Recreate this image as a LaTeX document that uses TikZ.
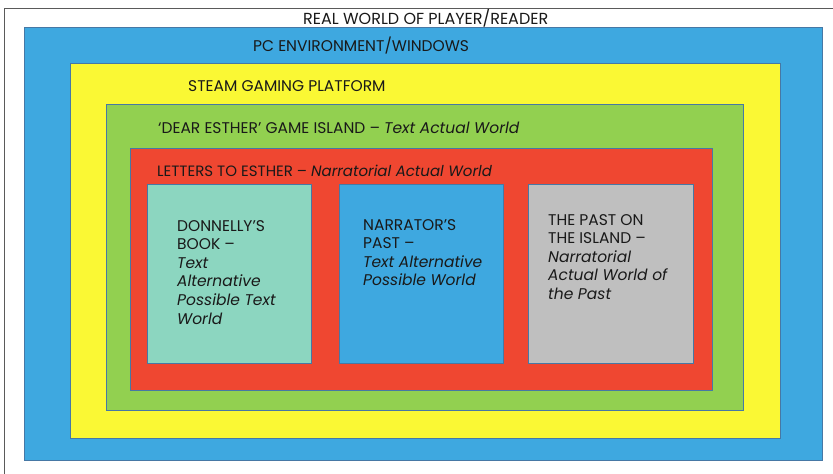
\documentclass[tikz,border=0pt]{standalone}
\usepackage{fontspec}
\setmainfont{Poppins}
\definecolor{framegray}{RGB}{90,90,90}
\definecolor{boxline}{RGB}{70,120,165}
\definecolor{pcblue}{RGB}{62,168,224}
\definecolor{steamyellow}{RGB}{250,248,52}
\definecolor{islandgreen}{RGB}{146,208,80}
\definecolor{lettersred}{RGB}{239,71,49}
\definecolor{bookteal}{RGB}{140,214,192}
\definecolor{pastgray}{RGB}{191,191,191}

\begin{document}
\begin{tikzpicture}[x=1pt,y=-1pt]
% define box types
\tikzstyle{world}=[draw=boxline, rectangle, anchor=north west, inner sep=0pt, line width=0.8pt]
\tikzstyle{heading}=[anchor=base west, inner sep=0pt, text=black!90, font=\fontsize{15.5}{18}\selectfont]
\tikzstyle{boxtext}=[anchor=north west, inner sep=0pt, align=left, text=black!90,
    font=\fontsize{15.5}{18.6}\selectfont]
\useasboundingbox (0,0) rectangle (833,474);
% frame of the real world
\draw[framegray, line width=1pt] (4,474) -- (4,8) -- (833,8);
% nested worlds
\node[world, fill=pcblue, minimum width=798, minimum height=433] (pc) at (24,27) {};
\node[world, fill=steamyellow, minimum width=710, minimum height=375] (steam) at (70,63) {};
\node[world, fill=islandgreen, minimum width=637, minimum height=306] (island) at (106,104) {};
\node[world, fill=lettersred, minimum width=582, minimum height=242] (letters) at (130,148) {};
% possible worlds
\node[world, fill=bookteal, minimum width=164, minimum height=179] (book) at (147,184) {};
\node[world, fill=pcblue, minimum width=164, minimum height=179] (narrator) at (339,184) {};
\node[world, fill=pastgray, minimum width=165, minimum height=179] (past) at (528,184) {};
% headings
\node[heading, font=\fontsize{16}{18}\selectfont] (realtext) at (303,24) {REAL WORLD OF PLAYER/READER};
\node[heading] (pctext) at (253,51) {PC ENVIRONMENT/WINDOWS};
\node[heading] (steamtext) at (188,91) {STEAM GAMING PLATFORM};
\node[heading] (islandtext) at (158,133) {‘DEAR ESTHER’ GAME ISLAND – \textit{Text Actual World}};
\node[heading, font=\fontsize{15}{18}\selectfont] (letterstext) at (157,176) {LETTERS TO ESTHER – \textit{Narratorial Actual World}};
% box texts
\node[boxtext] (booktext) at (177,220) {DONNELLY’S\\BOOK –\\\textit{Text}\\\textit{Alternative}\\\textit{Possible Text}\\\textit{World}};
\node[boxtext] (narratortext) at (363,219) {NARRATOR’S\\PAST –\\\textit{Text Alternative}\\\textit{Possible World}};
\node[boxtext] (pasttext) at (548,214) {THE PAST ON\\THE ISLAND –\\\textit{Narratorial}\\\textit{Actual World of}\\\textit{the Past}};
\end{tikzpicture}
\end{document}
